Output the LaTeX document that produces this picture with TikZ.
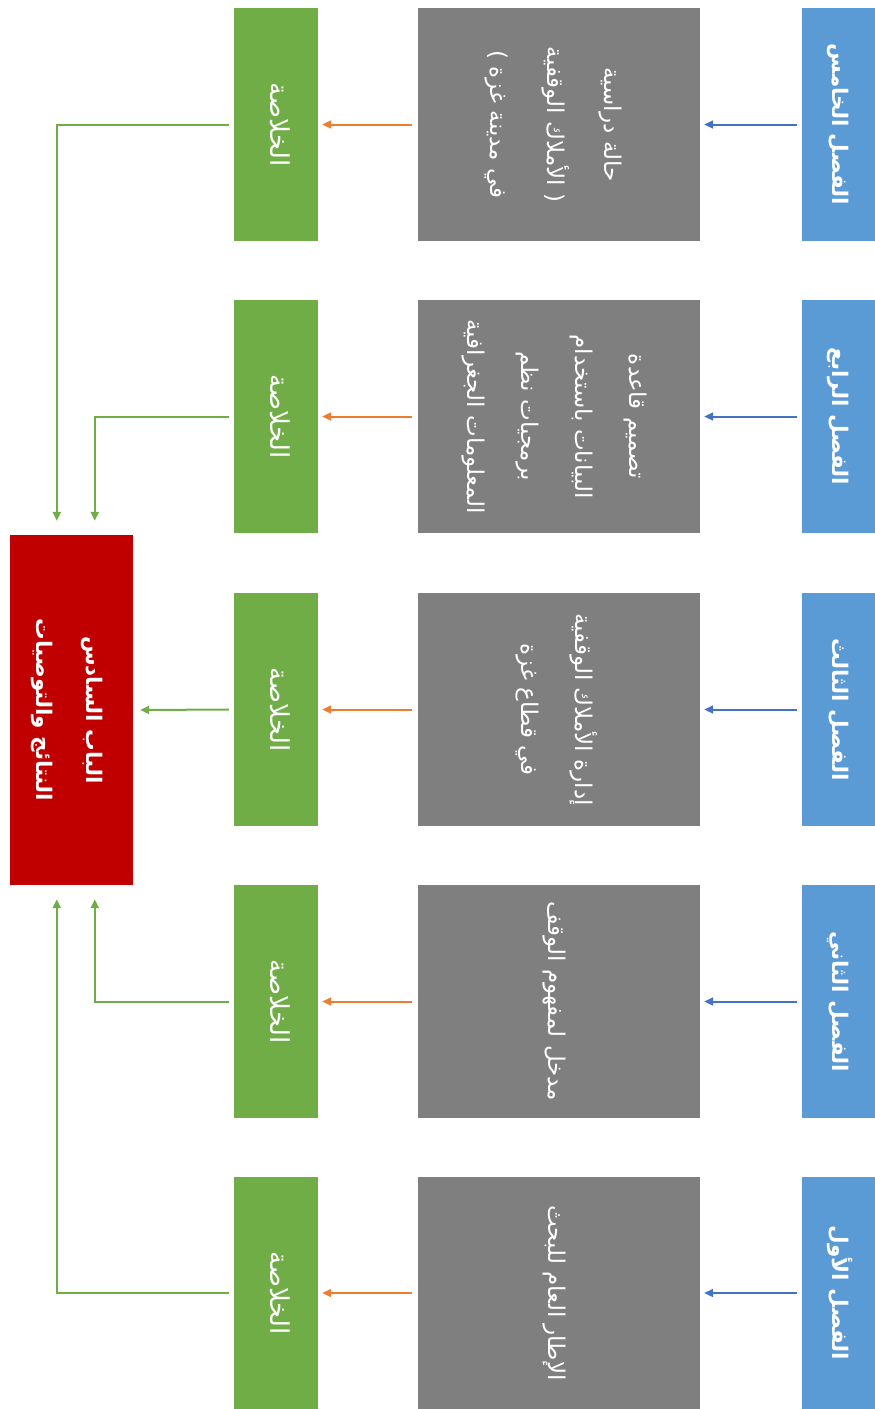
\documentclass[tikz,border=0pt]{standalone}
\usepackage{fontspec}
\usepackage{graphicx}
\newfontfamily\arabicfont[Script=Arabic]{DejaVu Sans}
\TeXXeTstate=1
\usetikzlibrary{arrows.meta}
\definecolor{cblue}{HTML}{5B9BD5}
\definecolor{cgray}{HTML}{7F7F7F}
\definecolor{cgreen}{HTML}{70AD47}
\definecolor{cred}{HTML}{C00000}
\definecolor{corange}{HTML}{ED7D31}
\definecolor{carrblue}{HTML}{4472C4}
\newcommand\rtxt[3]{\rotatebox{-90}{\arabicfont\fontsize{#1}{#2}\selectfont\begin{tabular}{@{}c@{}}#3\end{tabular}}}
\newcommand\rtxtb[3]{\rotatebox{-90}{\arabicfont\bfseries\fontsize{#1}{#2}\selectfont\begin{tabular}{@{}c@{}}#3\end{tabular}}}
\newcommand\rl[1]{\beginR #1\endR}
\tikzset{
  boxbase/.style={draw=none, inner sep=0pt, text=white, anchor=center},
  bluebox/.style={boxbase, fill=cblue, minimum width=73pt, minimum height=233pt},
  graybox/.style={boxbase, fill=cgray, minimum width=282pt, minimum height=233pt},
  greenbox/.style={boxbase, fill=cgreen, minimum width=84pt, minimum height=233pt},
  redbox/.style={boxbase, fill=cred, minimum width=123pt, minimum height=350pt},
  arr/.style={line width=2pt, -{Triangle[length=9pt,width=8pt]}},
  barrow/.style={arr, draw=carrblue, shorten <=5pt, shorten >=4pt},
  oarrow/.style={arr, draw=corange, shorten <=6pt, shorten >=4pt},
  garrow/.style={arr, draw=cgreen, shorten <=5pt},
}
\begin{document}
\begin{tikzpicture}[x=1pt,y=-1pt]
\useasboundingbox (0,0) rectangle (875,1409);
% blue chapter boxes
\node[bluebox] (b1) at (838.5,124.5) {\rtxtb{21.5}{30}{\rl{الفصل الخامس}}};
\node[bluebox] (b2) at (838.5,416.5) {\rtxtb{21.5}{30}{\rl{الفصل الرابع}}};
\node[bluebox] (b3) at (838.5,709.5) {\rtxtb{21.5}{30}{\rl{الفصل الثالث}}};
\node[bluebox] (b4) at (838.5,1001.5) {\rtxtb{21.5}{30}{\rl{الفصل الثاني}}};
\node[bluebox] (b5) at (838.5,1293) {\rtxtb{21.5}{30}{\rl{الفصل الأول}}};
% gray content boxes
\node[graybox] (c1) at (559,124.5) {\rtxt{23}{57}{\rl{حالة دراسية}\\\rl{( الأملاك الوقفية}\\\rl{في مدينة غزة )}}};
\node[graybox] (c2) at (559,416.5) {\rtxt{23}{54}{\rl{تصميم قاعدة}\\\rl{البيانات باستخدام}\\\rl{برمجيات نظم}\\\rl{المعلومات الجغرافية}}};
\node[graybox] (c3) at (559,709.5) {\rtxt{23}{54}{\rl{إدارة الأملاك الوقفية}\\\rl{في قطاع غزة}}};
\node[graybox] (c4) at (559,1001.5) {\rtxt{23}{54}{\rl{مدخل لمفهوم الوقف}}};
\node[graybox] (c5) at (559,1293) {\rtxt{23}{54}{\rl{الإطار العام للبحث}}};
% green summary boxes
\node[greenbox] (g1) at (276,124.5) {\rtxt{26}{30}{\rl{الخلاصة}}};
\node[greenbox] (g2) at (276,416.5) {\rtxt{26}{30}{\rl{الخلاصة}}};
\node[greenbox] (g3) at (276,709.5) {\rtxt{26}{30}{\rl{الخلاصة}}};
\node[greenbox] (g4) at (276,1001.5) {\rtxt{26}{30}{\rl{الخلاصة}}};
\node[greenbox] (g5) at (276,1293) {\rtxt{26}{30}{\rl{الخلاصة}}};
% red results box
\node[redbox] (r) at (71.5,710) {\rtxtb{21.5}{50}{\rl{الباب السادس}\\\rl{النتائج والتوصيات}}};
% arrows
\foreach \i in {1,...,5}{
  \draw[barrow] (b\i.west) -- (c\i.east);
  \draw[oarrow] (c\i.west) -- (g\i.east);
}
\draw[garrow, shorten >=7pt] (g3.west) -- (r.east);
\draw[garrow, shorten >=14pt] (g1.west) -| ([xshift=47pt]r.north west);
\draw[garrow, shorten >=14pt] (g2.west) -| ([xshift=85pt]r.north west);
\draw[garrow, shorten >=14pt] (g4.west) -| ([xshift=85pt]r.south west);
\draw[garrow, shorten >=14pt] (g5.west) -| ([xshift=47pt]r.south west);
\end{tikzpicture}
\end{document}
